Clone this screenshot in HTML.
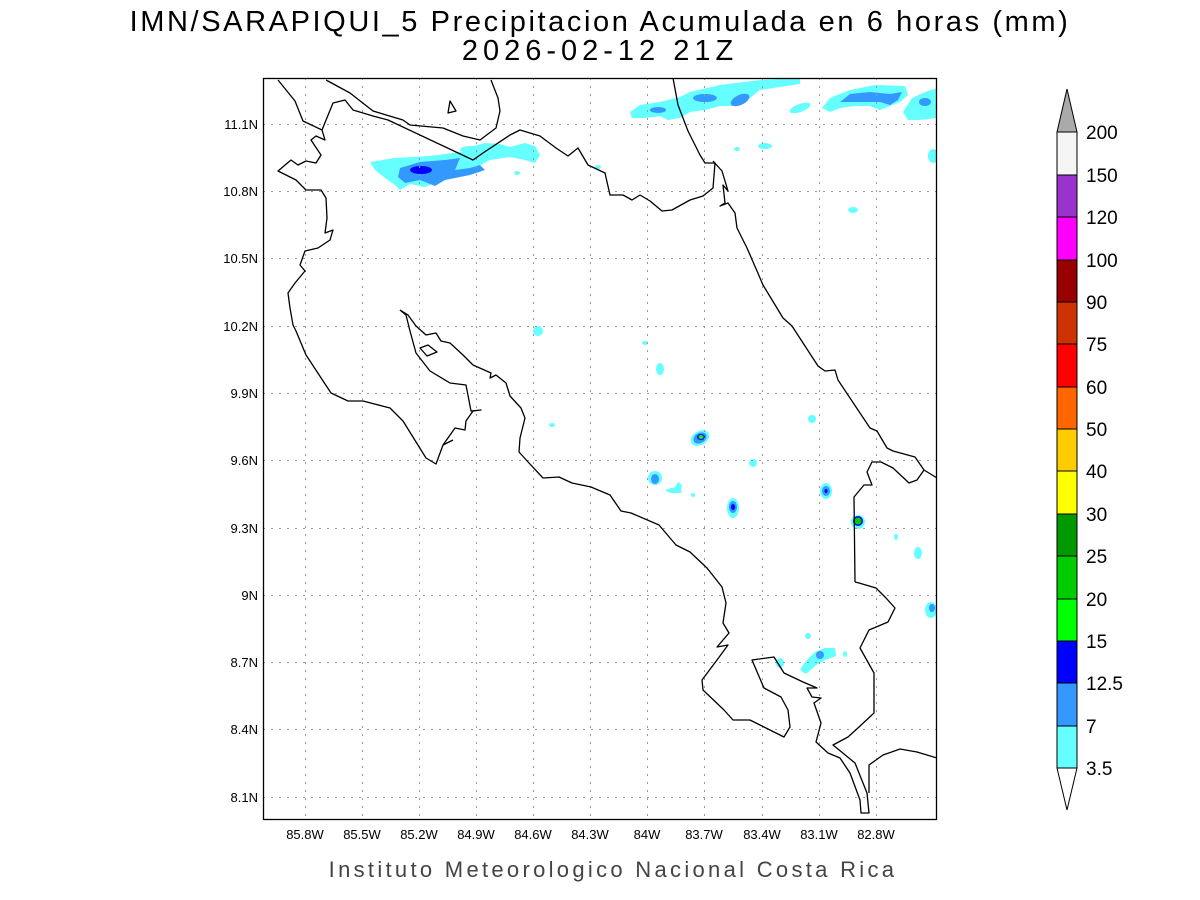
<!DOCTYPE html>
<html><head><meta charset="utf-8"><style>
html,body{margin:0;padding:0;background:#fff;}
svg{display:block;}
text{font-family:"Liberation Sans",sans-serif;fill:#000;}
</style></head><body>
<svg width="1200" height="900" viewBox="0 0 1200 900" xmlns="http://www.w3.org/2000/svg">
<rect width="1200" height="900" fill="#fff"/>
<text x="600" y="31" font-size="29" text-anchor="middle" letter-spacing="2.6">IMN/SARAPIQUI_5 Precipitacion Acumulada en 6 horas (mm)</text>
<text x="600" y="60" font-size="29" text-anchor="middle" letter-spacing="5">2026-02-12 21Z</text>

<defs><clipPath id="c"><rect x="263" y="78" width="674" height="742"/></clipPath></defs>
<g clip-path="url(#c)">
<g stroke="none">
<polygon fill="#66ffff" points="370,162 395,158 430,156 460,152 470,147 485,143 500,144 510,147 525,143 535,146 540,155 535,163 525,160 510,157 490,160 475,168 455,175 435,183 425,187 410,184 400,190 395,185 385,178 375,170"/>
<polygon fill="#3399ff" points="398,177 400,168 420,162 445,160 460,158 455,170 470,168 480,165 485,170 470,175 445,180 435,186 420,180 405,183"/>
<ellipse cx="421" cy="170" rx="11" ry="4" fill="#0000ff"/>
<ellipse cx="470" cy="150" rx="10" ry="4" fill="#66ffff"/>
<polygon fill="#66ffff" points="630,112 640,105 660,102 680,97 690,92 720,85 760,80 800,78 800,84 780,87 760,90 750,98 735,106 720,106 705,110 690,112 680,118 668,120 660,116 645,118 632,118"/>
<ellipse cx="658" cy="110" rx="8" ry="3" fill="#3399ff"/>
<ellipse cx="705" cy="98" rx="12" ry="4" fill="#3399ff"/>
<ellipse cx="740" cy="100" rx="10" ry="5" fill="#3399ff" transform="rotate(-25 740 100)"/>
<ellipse cx="800" cy="108" rx="11" ry="4" fill="#66ffff" transform="rotate(-20 800 108)"/>
<polygon fill="#66ffff" points="822,108 830,98 850,90 875,85 905,86 908,95 900,102 890,106 880,110 870,106 855,106 840,108 830,112"/>
<polygon fill="#3399ff" points="840,102 850,94 870,92 890,94 902,92 898,100 890,105 880,102 860,102"/>
<polygon fill="#66ffff" points="903,112 912,98 925,92 937,88 937,118 920,120 908,120"/>
<ellipse cx="925" cy="102" rx="6" ry="4" fill="#3399ff"/>
<ellipse cx="933" cy="156" rx="5" ry="7" fill="#66ffff"/>
<ellipse cx="765" cy="146" rx="7" ry="3" fill="#66ffff"/>
<ellipse cx="737" cy="149" rx="3" ry="2" fill="#66ffff"/>
<ellipse cx="853" cy="210" rx="5" ry="3" fill="#66ffff"/>
<ellipse cx="598" cy="167" rx="3" ry="2" fill="#66ffff"/>
<ellipse cx="517" cy="173" rx="3" ry="2" fill="#66ffff"/>
<ellipse cx="538" cy="331" rx="5" ry="5" fill="#66ffff"/>
<ellipse cx="660" cy="369" rx="4" ry="6" fill="#66ffff"/>
<ellipse cx="645" cy="343" rx="3" ry="2" fill="#66ffff"/>
<ellipse cx="812" cy="419" rx="4" ry="4" fill="#66ffff"/>
<ellipse cx="552" cy="425" rx="3" ry="2" fill="#66ffff"/>
<ellipse cx="700" cy="438" rx="10" ry="7" fill="#66ffff" transform="rotate(-30 700 438)"/>
<ellipse cx="700" cy="438" rx="7" ry="5" fill="#3399ff" transform="rotate(-30 700 438)"/>
<ellipse cx="701" cy="437" rx="4" ry="3" fill="#0000ff"/>
<ellipse cx="701" cy="437" rx="2.5" ry="2" fill="#00ff00"/>
<ellipse cx="655" cy="478" rx="7" ry="7" fill="#66ffff"/>
<ellipse cx="655" cy="479" rx="4" ry="5" fill="#3399ff"/>
<polygon fill="#66ffff" points="665,490 675,487 678,482 682,485 681,493 670,493"/>
<ellipse cx="693" cy="495" rx="2" ry="2" fill="#66ffff"/>
<ellipse cx="753" cy="463" rx="4" ry="4" fill="#66ffff"/>
<ellipse cx="733" cy="508" rx="6" ry="10" fill="#66ffff"/>
<ellipse cx="733" cy="507" rx="4" ry="6" fill="#3399ff"/>
<ellipse cx="733" cy="507" rx="2" ry="3" fill="#0000ff"/>
<ellipse cx="826" cy="491" rx="6" ry="8" fill="#66ffff"/>
<ellipse cx="826" cy="491" rx="4" ry="5" fill="#3399ff"/>
<ellipse cx="826" cy="491" rx="1.5" ry="2" fill="#0000ff"/>
<ellipse cx="858" cy="522" rx="7" ry="7" fill="#66ffff"/>
<ellipse cx="858" cy="521" rx="5" ry="5" fill="#0000ff"/>
<ellipse cx="858" cy="521" rx="3.5" ry="3.5" fill="#00cc00"/>
<ellipse cx="896" cy="537" rx="2" ry="3" fill="#66ffff"/>
<ellipse cx="918" cy="553" rx="4" ry="6" fill="#66ffff"/>
<ellipse cx="931" cy="610" rx="6" ry="8" fill="#66ffff"/>
<ellipse cx="932" cy="608" rx="3" ry="4" fill="#3399ff"/>
<ellipse cx="808" cy="636" rx="3" ry="3" fill="#66ffff"/>
<polygon fill="#66ffff" points="800,670 805,662 815,652 825,648 835,648 836,656 825,660 815,666 806,674"/>
<ellipse cx="820" cy="655" rx="4" ry="4" fill="#3399ff"/>
<ellipse cx="845" cy="654" rx="2" ry="3" fill="#66ffff"/>
<ellipse cx="780" cy="663" rx="4" ry="5" fill="#66ffff"/>
</g>
<g stroke="#999" stroke-width="1" stroke-dasharray="2,6">
<path d="M305.5 78V820M362.5 78V820M419.5 78V820M476.5 78V820M533.5 78V820M590.5 78V820M647.5 78V820M704.5 78V820M762.5 78V820M819.5 78V820M876.5 78V820"/>
<path d="M263 124.5H937M263 191.5H937M263 258.5H937M263 326.5H937M263 393.5H937M263 460.5H937M263 528.5H937M263 595.5H937M263 662.5H937M263 729.5H937M263 797.5H937"/>
</g>
<g fill="none" stroke="#000" stroke-width="1.3" stroke-linejoin="round">
<polyline points="278,80 295,101 303,121 322,130 325,140 316,136 311,140 321,155 316,163 306,161 298,165 291,160 278,171 296,180 306,190 321,190 326,198 327,218 325,233 333,230 330,240 318,248 305,251 300,265 305,271 295,283 288,293 290,308 293,325 296,331 306,355 331,393 348,401 363,401 390,408 403,421 426,458 436,464 443,445 453,440"/>
<polyline points="326,80 350,93 373,111 403,120 410,125 443,128 463,136 480,140 496,128 500,111 498,98 491,80"/>
<polyline points="322,130 333,103 345,100 353,110 373,116 388,120 473,160 483,153 510,135 520,130 540,136 556,148 568,156 578,148 588,165 605,173 610,195 623,195 632,200 640,195 650,201 662,211 672,210 690,200 703,196 713,188 715,163 705,163 700,155 688,131 678,105 673,78"/>
<polyline points="713,161 722,171 728,191 723,185 725,203 720,206 728,203 735,213 737,228 747,248 757,271 763,285 783,318 792,326 818,366 825,371 835,370 838,380 870,428 877,431 887,448 893,451 915,457 924,470 937,478"/>
<polyline points="855,582 854,497 864,485 872,485 867,472 872,462 881,462 893,468 909,483 917,480 924,470"/>
<polyline points="400,310 408,315 416,326 426,335 436,333 441,341 450,343 463,355 473,365 491,373 490,378 496,375 506,383 510,396 521,408 525,418 520,438 519,452 529,463 543,478 559,477 572,483 591,487 610,495 621,511 631,513 659,525 676,545 690,552 707,568 722,587 726,603 723,623 729,633 717,647 728,645 717,660 702,680 703,690 724,710 733,720 750,720 784,737 790,727 788,710 781,697 764,688 752,660 774,657 784,673 803,682 817,688 807,688 812,697 821,698 814,703 821,723 816,742 828,753 840,758 850,773 860,800 861,813 869,813 867,793 855,763 833,745 848,737 859,727 874,713 874,673 860,648 869,630 888,622 895,608 886,598 876,588 859,583 855,582"/>
<polyline points="400,310 406,315 410,331 416,353 430,371 450,383 466,385 471,411 481,410 473,411 466,421 465,430 455,428 443,445"/>
<polyline points="869,793 869,765 883,755 900,749 917,752 937,758"/>
<polygon points="420,348 428,345 437,352 427,356"/>
<polygon points="448,113 450,101 456,111"/>
</g>
</g>
<rect x="263.5" y="78.5" width="673" height="741" fill="none" stroke="#000" stroke-width="1.3"/>
<g font-size="13" text-anchor="end">
<text x="258" y="129">11.1N</text><text x="258" y="196">10.8N</text><text x="258" y="263">10.5N</text><text x="258" y="331">10.2N</text><text x="258" y="398">9.9N</text><text x="258" y="465">9.6N</text><text x="258" y="533">9.3N</text><text x="258" y="600">9N</text><text x="258" y="667">8.7N</text><text x="258" y="734">8.4N</text><text x="258" y="802">8.1N</text>
</g>
<g font-size="13" text-anchor="middle">
<text x="305" y="839">85.8W</text><text x="362" y="839">85.5W</text><text x="419" y="839">85.2W</text><text x="476" y="839">84.9W</text><text x="533" y="839">84.6W</text><text x="590" y="839">84.3W</text><text x="647" y="839">84W</text><text x="704" y="839">83.7W</text><text x="762" y="839">83.4W</text><text x="819" y="839">83.1W</text><text x="876" y="839">82.8W</text>
</g>
<text x="613" y="877" font-size="22" text-anchor="middle" letter-spacing="3.3" style="fill:#444">Instituto Meteorologico Nacional Costa Rica</text>
<g stroke="#000" stroke-width="1">
<polygon points="1057,132 1077,132 1067,89" fill="#aaaaaa"/>
<rect x="1057" y="132" width="20" height="43" fill="#f5f5f5"/>
<rect x="1057" y="175" width="20" height="42" fill="#9933cc"/>
<rect x="1057" y="217" width="20" height="43" fill="#ff00ff"/>
<rect x="1057" y="260" width="20" height="42" fill="#990000"/>
<rect x="1057" y="302" width="20" height="42" fill="#cc3300"/>
<rect x="1057" y="344" width="20" height="43" fill="#ff0000"/>
<rect x="1057" y="387" width="20" height="42" fill="#ff6600"/>
<rect x="1057" y="429" width="20" height="42" fill="#ffcc00"/>
<rect x="1057" y="471" width="20" height="43" fill="#ffff00"/>
<rect x="1057" y="514" width="20" height="42" fill="#009900"/>
<rect x="1057" y="556" width="20" height="43" fill="#00cc00"/>
<rect x="1057" y="599" width="20" height="42" fill="#00ff00"/>
<rect x="1057" y="641" width="20" height="42" fill="#0000ff"/>
<rect x="1057" y="683" width="20" height="43" fill="#3399ff"/>
<rect x="1057" y="726" width="20" height="42" fill="#66ffff"/>
<polygon points="1057,768 1077,768 1067,810" fill="#ffffff"/>
</g>
<g font-size="19">
<text x="1086" y="139">200</text><text x="1086" y="182">150</text><text x="1086" y="224">120</text><text x="1086" y="267">100</text><text x="1086" y="309">90</text><text x="1086" y="351">75</text><text x="1086" y="394">60</text><text x="1086" y="436">50</text><text x="1086" y="478">40</text><text x="1086" y="521">30</text><text x="1086" y="563">25</text><text x="1086" y="606">20</text><text x="1086" y="648">15</text><text x="1086" y="690">12.5</text><text x="1086" y="733">7</text><text x="1086" y="775">3.5</text>
</g>
</svg>
</body></html>
